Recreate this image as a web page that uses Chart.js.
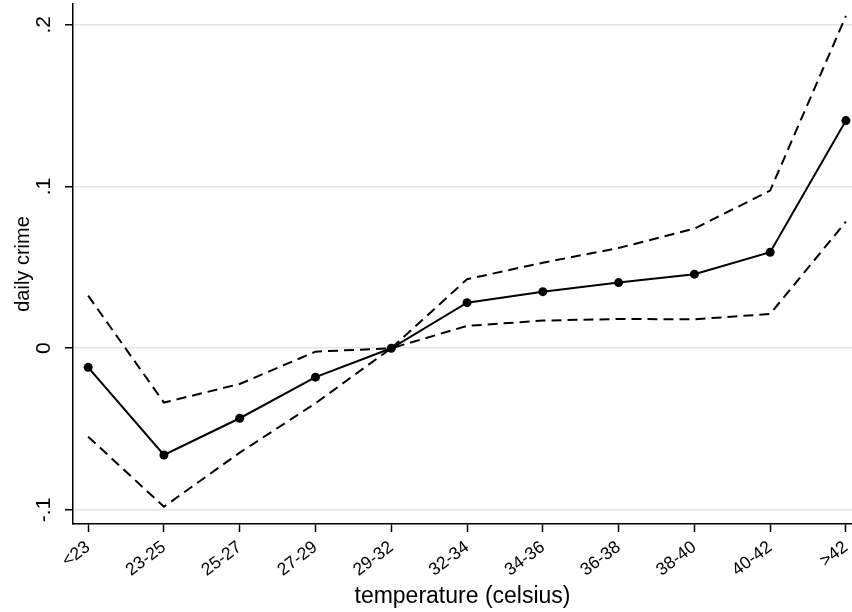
<!DOCTYPE html>
<html><head><meta charset="utf-8">
<script src="https://cdn.jsdelivr.net/npm/chart.js@4/dist/chart.umd.min.js"></script>
<style>html,body{margin:0;padding:0;background:#fff}canvas{display:block}</style>
</head><body>
<canvas id="c" width="852" height="612"></canvas>
<script>
const categories = ['<23','23-25','25-27','27-29','29-32','32-34','34-36','36-38','38-40','40-42','>42'];
const estimate = [-0.0118,-0.0660,-0.0433,-0.0179,0,0.0282,0.0350,0.0406,0.0458,0.0594,0.1408];
const upperCI  = [0.0325,-0.0336,-0.0221,-0.0021,0,0.0427,0.0529,0.0620,0.0740,0.0975,0.2055];
const lowerCI  = [-0.0547,-0.0980,-0.0646,-0.0340,0,0.0138,0.0171,0.0181,0.0179,0.0212,0.0783];
const yTickValues = [-0.1,0,0.1,0.2];
const yTickLabels = ['-.1','0','.1','.2'];
const xTitle = 'temperature (celsius)';
const yTitle = 'daily crime';

const FONT = "'Liberation Sans', Arial, Helvetica, sans-serif";
const toXY = arr => arr.map((v,i)=>({x:i,y:v}));

new Chart(document.getElementById('c'), {
  type: 'line',
  data: {
    datasets: [
      {data: toXY(upperCI), borderColor:'#000', borderWidth:2, borderDash:[10,6], pointRadius:0, tension:0, fill:false},
      {data: toXY(lowerCI), borderColor:'#000', borderWidth:2, borderDash:[10,6], pointRadius:0, tension:0, fill:false},
      {data: toXY(estimate), borderColor:'#000', borderWidth:2, pointRadius:4.5, pointBackgroundColor:'#000', pointBorderColor:'#000', pointBorderWidth:0, tension:0, fill:false}
    ]
  },
  options: {
    responsive:false, animation:false, devicePixelRatio:1,
    layout:{autoPadding:false, padding:{top:4,right:0,bottom:0,left:0}},
    plugins:{legend:{display:false}, tooltip:{enabled:false}},
    scales:{
      x:{
        type:'linear', min:-0.2, max:10.08,
        afterBuildTicks: s => { s.ticks = categories.map((_,i)=>({value:i})); },
        afterFit: s => { s.height = 88; s.paddingLeft = 0; s.paddingRight = 0; },
        ticks:{autoSkip:false, minRotation:37, maxRotation:37, padding:5, color:'#000',
          font:{family:FONT, size:17.5},
          callback: v => categories[Math.round(v)] },
        grid:{drawOnChartArea:false, drawTicks:true, tickLength:8, tickColor:'#000', tickWidth:1.5},
        border:{display:true, color:'#000', width:1.5},
        title:{display:true, text:xTitle, color:'#000', font:{family:FONT, size:23}, padding:{top:0,bottom:2}}
      },
      y:{
        type:'linear', min:-0.1087, max:0.2129,
        afterBuildTicks: s => { s.ticks = yTickValues.map(v=>({value:v})); },
        afterFit: s => { s.width = 73; s.paddingTop = 0; s.paddingBottom = 0; },
        ticks:{minRotation:90, maxRotation:90, crossAlign:'center', padding:9, color:'#000',
          font:{family:FONT, size:21},
          callback: v => { const k = yTickValues.findIndex(t=>Math.abs(t-v)<1e-9); return k>=0 ? yTickLabels[k] : ''; } },
        grid:{color:'#e6e6e6', lineWidth:1.5, drawTicks:true, tickLength:8, tickColor:'#000', tickWidth:1.5},
        border:{display:true, color:'#000', width:1.5},
        title:{display:true, text:yTitle, color:'#000', font:{family:FONT, size:20}, padding:{top:11,bottom:0}}
      }
    }
  }
});
</script>
</body></html>
